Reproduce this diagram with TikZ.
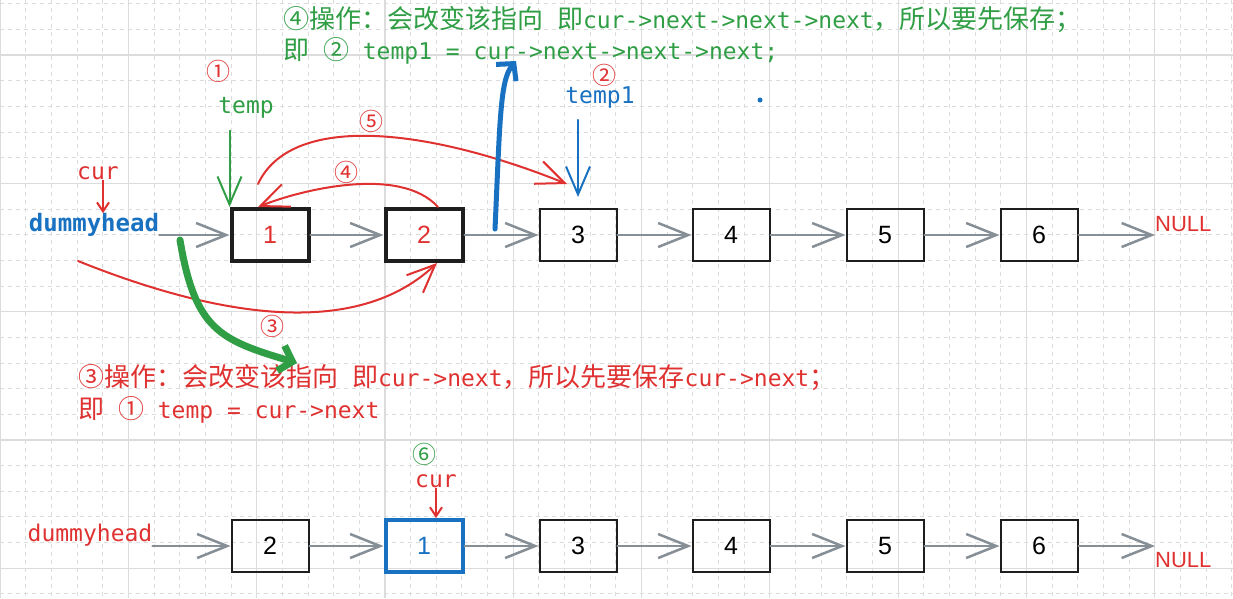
\documentclass[tikz,border=0pt]{standalone}
\usepackage{fontspec}
\usetikzlibrary{arrows.meta,positioning}
\setmainfont{Liberation Sans}
\setmonofont{DejaVu Sans Mono}
\newfontfamily\cjk{Noto Sans CJK SC}
\newcommand{\zh}[1]{{\cjk\fontsize{26}{30}\selectfont #1}}
\definecolor{exred}{HTML}{E03131}
\definecolor{exgreen}{HTML}{2F9E44}
\definecolor{exblue}{HTML}{1971C2}
\definecolor{exgray}{HTML}{868E96}
\definecolor{exblack}{HTML}{1E1E1E}
\definecolor{gridgray}{HTML}{DCDCDC}

\begin{document}
\begin{tikzpicture}[x=1pt,y=-1pt,
    minor/.style={draw=gridgray, line width=0.8pt, dash pattern=on 4pt off 4pt},
    major/.style={draw=gridgray, line width=1.2pt},
    box/.style={draw=exblack, line width=2pt, minimum width=77pt, minimum height=52pt, inner sep=0pt, font=\fontsize{25}{30}\selectfont},
    boldbox/.style={box, line width=4pt},
    link/.style={draw=exgray, line width=2.5pt, line cap=round, -{Straight Barb[length=30pt,width=24pt]}},
    pen/.style={line width=2pt, line cap=round, -{Straight Barb[length=28pt,width=24pt]}},
    tick/.style={draw=exred, line width=2pt, -{Straight Barb[length=9pt,width=12pt]}},
    code/.style={inner sep=0pt, font=\ttfamily\fontsize{23}{28}\selectfont},
    stepno/.style={inner sep=0pt, text height=18pt, text depth=1pt, font=\cjk\fontsize{24}{28}\selectfont}]

    \useasboundingbox (0,0) rectangle (1233,598);
    \fill[white] (0,0) rectangle (1233,598);

    % grid
    \foreach \i in {0,...,48} \draw[minor] ({25.66*\i},0) -- ({25.66*\i},598);
    \foreach \j in {-2,...,21} \draw[minor] (0,{55+25.66*\j}) -- (1233,{55+25.66*\j});
    \foreach \i in {0,...,9} \draw[major] ({128.3*\i},0) -- ({128.3*\i},598);
    \foreach \j in {-1,...,4} \draw[major] (0,{55+128.3*\j}) -- (1233,{55+128.3*\j});

    % notes
    \node[code, text=exgreen, anchor=west] (note4) at (283,20) {\zh{④操作：会改变该指向} \zh{即}cur->next->next->next\zh{，所以要先保存；}};
    \node[code, text=exgreen, anchor=west] (save4) at (283,51) {\zh{即} \zh{②} temp1 = cur->next->next->next;};
    \node[code, text=exred, anchor=west] (note3) at (78,378) {\zh{③操作：会改变该指向} \zh{即}cur->next\zh{，所以先要保存}cur->next\zh{；}};
    \node[code, text=exred, anchor=west] (save3) at (78,410) {\zh{即} \zh{①} temp = cur->next};

    % top list
    \node[boldbox, text=exred] (t1) at (270,235) {1};
    \node[boldbox, text=exred] (t2) at (424,235) {2};
    \node[box] (t3) at (578,235) {3};
    \node[box] (t4) at (731,235) {4};
    \node[box] (t5) at (885,235) {5};
    \node[box] (t6) at (1039,235) {6};
    \node[code, text=exblue, font=\ttfamily\bfseries\fontsize{24}{28}\selectfont] (dh1) at (94,225) {dummyhead};
    \node[inner sep=0pt, text=exred, anchor=west, font=\fontsize{22}{26}\selectfont] (null1) at (1155,224) {NULL};
    \coordinate (end1) at (1155,235);

    \draw[link] (dh1.east |- t1) -- (t1.west);
    \draw[link] (t1.east) -- (t2.west);
    \draw[link] (t2.east) -- (t3.west);
    \draw[link] (t3.east) -- (t4.west);
    \draw[link] (t4.east) -- (t5.west);
    \draw[link] (t5.east) -- (t6.west);
    \draw[link] (t6.east) -- (end1);

    % pointers
    \node[code, text=exred] (cur1) at (98,173) {cur};
    \draw[tick] ([xshift=5pt]cur1.south) -- ([xshift=5pt]cur1.south |- dh1.north);
    \node[stepno, text=exred] (m1) at (218,72) {①};
    \node[code, text=exgreen] (temp) at (246,108) {temp};
    \draw[pen, draw=exgreen] ([yshift=-12pt]temp.south -| t1.north west) -- (t1.north west);
    \node[stepno, text=exred] (m2) at (604,76) {②};
    \node[code, text=exblue] (temp1) at (600,98) {temp1};
    \draw[pen, draw=exblue] ([yshift=-11pt]temp1.south -| t3.north) -- ([yshift=11pt]t3.north);
    \fill[exblue] (760,100) circle (2.5);

    % steps
    \node[stepno, text=exred] (m4) at (346,173) {④};
    \draw[pen, draw=exred] ([xshift=14pt]t2.north) .. controls (400,165) and (300,190) .. ([xshift=-12pt]t1.north);
    \node[stepno, text=exred] (m5) at (371,122) {⑤};
    \draw[pen, draw=exred] (258,184) .. controls (290,115) and (420,125) .. (567,184);
    \node[stepno, text=exred] (m3) at (272,327) {③};
    \coordinate (c3) at (78,261);
    \draw[pen, draw=exred] (c3) .. controls (200,310) and (350,345) .. ([xshift=13pt]t2.south);
    \coordinate (g1) at (180,240);
    \coordinate (g2) at (297,363);
    \draw[draw=exgreen, line width=7pt, line cap=round, line join=round, -{Straight Barb[length=12pt,width=26pt]}] (g1) .. controls (195,330) and (220,340) .. (g2);
    \coordinate (b1) at (495,229);
    \coordinate (b2) at (516,61);
    \draw[draw=exblue, line width=5pt, line cap=round, line join=round, -{Straight Barb[length=12pt,width=26pt]}] (b1) .. controls (500,120) and (500,80) .. (b2);

    % bottom list
    \node[box] (b1n) at (270,546) {2};
    \node[box, draw=exblue, line width=4pt, text=exblue] (b2n) at (424,546) {1};
    \node[box] (b3n) at (578,546) {3};
    \node[box] (b4n) at (731,546) {4};
    \node[box] (b5n) at (885,546) {5};
    \node[box] (b6n) at (1039,546) {6};
    \node[code, text=exred] (dh2) at (90,535) {dummyhead};
    \node[inner sep=0pt, text=exred, anchor=west, font=\fontsize{22}{26}\selectfont] (null2) at (1155,560) {NULL};
    \coordinate (end2) at (1155,546);

    \draw[link] (dh2.east |- b1n) -- (b1n.west);
    \draw[link] (b1n.east) -- (b2n.west);
    \draw[link] (b2n.east) -- (b3n.west);
    \draw[link] (b3n.east) -- (b4n.west);
    \draw[link] (b4n.east) -- (b5n.west);
    \draw[link] (b5n.east) -- (b6n.west);
    \draw[link] (b6n.east) -- (end2);

    \node[stepno, text=exgreen] (m6) at (424,455) {⑥};
    \node[code, text=exred] (cur2) at (436,481) {cur};
    \draw[tick] (cur2.south) -- (cur2.south |- b2n.north);
\end{tikzpicture}
\end{document}
